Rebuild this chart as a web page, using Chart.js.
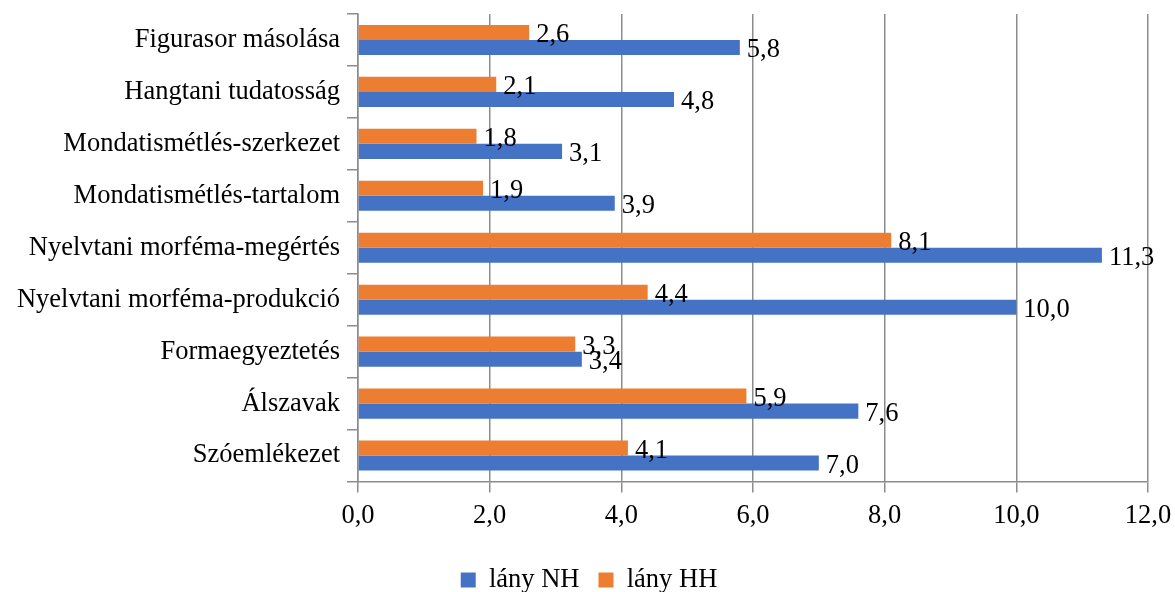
<!DOCTYPE html>
<html>
<head>
<meta charset="utf-8">
<script src="https://cdn.jsdelivr.net/npm/chart.js@4"></script>
<style>
  body { margin: 0; background: #fff; }
  #wrap { width: 1175px; height: 592px; }
</style>
</head>
<body>
<div id="wrap"><canvas id="chart" width="1175" height="592"></canvas></div>
<script>
// categories top to bottom
const categories = [
    "Figurasor másolása",
    "Hangtani tudatosság",
    "Mondatismétlés-szerkezet",
    "Mondatismétlés-tartalom",
    "Nyelvtani morféma-megértés",
    "Nyelvtani morféma-produkció",
    "Formaegyeztetés",
    "Álszavak",
    "Szóemlékezet"
];
const lanyNH = [5.8, 4.8, 3.1, 3.9, 11.3, 10.0, 3.4, 7.6, 7.0];
const lanyHH = [2.6, 2.1, 1.8, 1.9, 8.1, 4.4, 3.3, 5.9, 4.1];
const xTicks = [0, 2, 4, 6, 8, 10, 12];

const FONT = "'Liberation Serif', 'Times New Roman', serif";
const FSIZE = 26.5;
const gridCol = "#8c8c8c";

function fmt(v) {
    return v.toFixed(1).replace(".", ",");
}

// value labels right after bar ends
const barLabels = {
    id: "barLabels",
    afterDatasetsDraw(chart) {
        const ctx = chart.ctx;
        ctx.save();
        ctx.font = FSIZE + "px " + FONT;
        ctx.fillStyle = "#000";
        ctx.textAlign = "left";
        ctx.textBaseline = "middle";
        chart.data.datasets.forEach((ds, i) => {
            const meta = chart.getDatasetMeta(i);
            meta.data.forEach((bar, j) => {
                ctx.fillText(fmt(ds.data[j]), bar.x + 7, bar.y + 3);
            });
        });
        ctx.restore();
    }
};

// move the legend row down to the bottom edge and a bit right
const legendShift = {
    id: "legendShift",
    afterLayout(chart) {
        const lg = chart.legend;
        const dy = 580 - (lg.top + lg.options.labels.padding + FSIZE / 2);
        const dx = 15;
        lg.top += dy; lg.bottom += dy;
        lg.left += dx; lg.right += dx;
    }
};

const ctx = document.getElementById("chart").getContext("2d");
new Chart(ctx, {
    type: "bar",
    data: {
        labels: categories,
        datasets: [
            {
                label: "lány HH",
                data: lanyHH,
                backgroundColor: "#ED7D31",
                categoryPercentage: 0.58,
                barPercentage: 1.0
            },
            {
                label: "lány NH",
                data: lanyNH,
                backgroundColor: "#4472C4",
                categoryPercentage: 0.58,
                barPercentage: 1.0
            }
        ]
    },
    options: {
        indexAxis: "y",
        responsive: false,
        animation: false,
        layout: { padding: { top: 14, right: 27, left: 0, bottom: 0 } },
        scales: {
            x: {
                min: 0,
                max: 12,
                afterBuildTicks(scale) {
                    scale.ticks = xTicks.map(v => ({ value: v }));
                },
                afterFit(scale) {
                    scale.height = 55;
                    scale.paddingLeft = 0;
                    scale.paddingRight = 0;
                },
                ticks: {
                    color: "#000",
                    font: { family: FONT, size: FSIZE },
                    padding: 8,
                    callback: v => fmt(v)
                },
                grid: {
                    color: gridCol,
                    lineWidth: 1.5,
                    tickLength: 11
                },
                border: { color: gridCol, width: 1.5 }
            },
            y: {
                afterFit(scale) {
                    scale.width = 358;
                    scale.paddingTop = 0;
                    scale.paddingBottom = 0;
                },
                ticks: {
                    color: "#000",
                    font: { family: FONT, size: FSIZE },
                    padding: 7
                },
                grid: {
                    offset: true,
                    drawOnChartArea: false,
                    color: gridCol,
                    lineWidth: 1.5,
                    tickLength: 11
                },
                border: { color: gridCol, width: 1.5 }
            }
        },
        plugins: {
            legend: {
                position: "bottom",
                reverse: true,
                labels: {
                    color: "#000",
                    font: { family: FONT, size: FSIZE },
                    boxWidth: 15,
                    boxHeight: 15,
                    padding: 19
                }
            },
            tooltip: { enabled: false }
        }
    },
    plugins: [barLabels, legendShift]
});
</script>
</body>
</html>
